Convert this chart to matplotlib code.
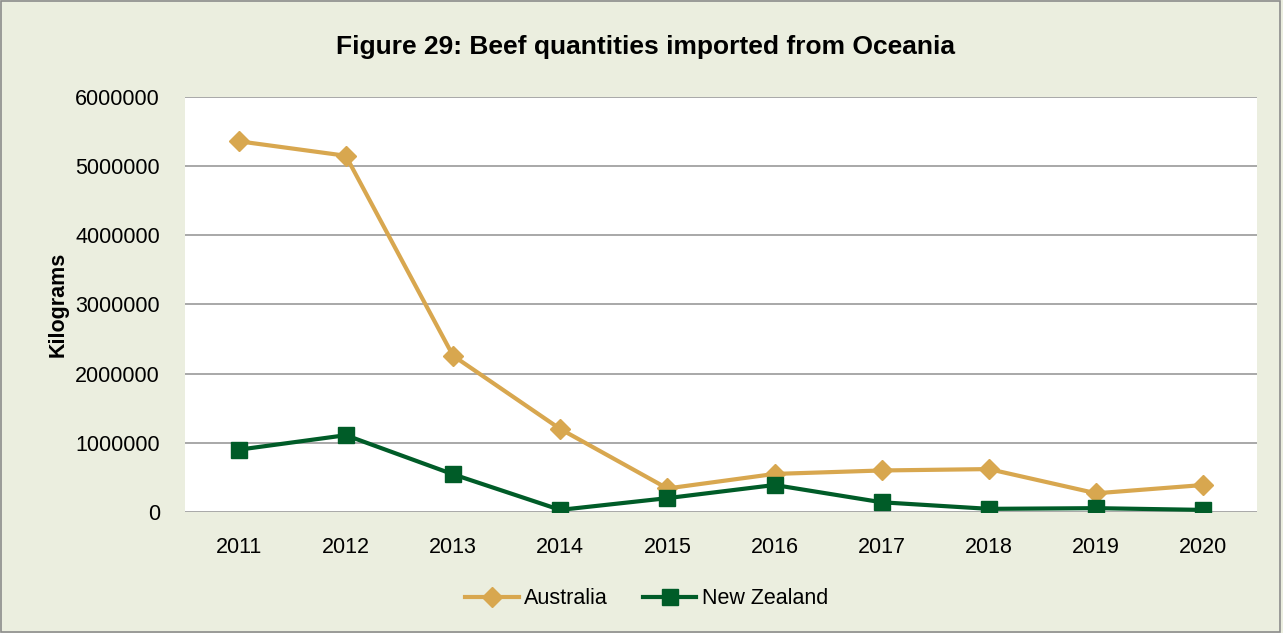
import numpy as np
import matplotlib.pyplot as plt
from matplotlib.patches import Rectangle

years = ['2011', '2012', '2013', '2014', '2015', '2016', '2017', '2018', '2019', '2020']
australia = [5360000, 5150000, 2260000, 1200000, 340000, 550000, 600000, 620000, 270000, 390000]
new_zealand = [900000, 1110000, 545000, 30000, 200000, 390000, 140000, 45000, 55000, 30000]
yticks = [0, 1000000, 2000000, 3000000, 4000000, 5000000, 6000000]

plt.rcParams['font.family'] = ['Liberation Sans', 'DejaVu Sans']

bg = '#ebeedf'
fig = plt.figure(figsize=(12.83, 6.33), dpi=100, facecolor=bg)
fig.patches.append(Rectangle((0.001, 0.002), 0.997, 0.996, transform=fig.transFigure,
                             fill=False, edgecolor='#8c8c8c', linewidth=1.2))
ax = fig.add_axes([0.1442, 0.1912, 0.8355, 0.6556])
ax.set_facecolor('white')

x = np.arange(len(years))
ax.plot(x, australia, color='#d8a74f', linewidth=3, marker='D', markersize=10, label='Australia', zorder=3)
ax.plot(x, new_zealand, color='#005c28', linewidth=3, marker='s', markersize=12, label='New Zealand', zorder=4)

ax.set_xlim(-0.5, 9.5)
ax.set_ylim(0, 6000000)
ax.set_yticks(yticks)
ax.set_yticklabels([str(v) for v in yticks])
ax.set_xticks(x)
ax.set_xticklabels(years)
ax.tick_params(axis='both', length=0, labelsize=15.5)
ax.tick_params(axis='x', pad=18)
ax.tick_params(axis='y', pad=18)
ax.grid(axis='y', color='#9a9a9a', linewidth=1.2)
ax.set_axisbelow(True)
for s in ax.spines.values():
    s.set_visible(False)

ax.set_ylabel('Kilograms', fontsize=15.5, fontweight='bold', labelpad=5)
fig.text(0.503, 0.926, 'Figure 29: Beef quantities imported from Oceania', ha='center', va='center',
         fontsize=19, fontweight='bold')

fig.legend(loc='center', bbox_to_anchor=(0.504, 0.054), ncol=2, frameon=False, fontsize=15.5,
           handlelength=2.5, columnspacing=1.6, handletextpad=0.25)

fig.savefig('out.png', dpi=100, facecolor=bg)
